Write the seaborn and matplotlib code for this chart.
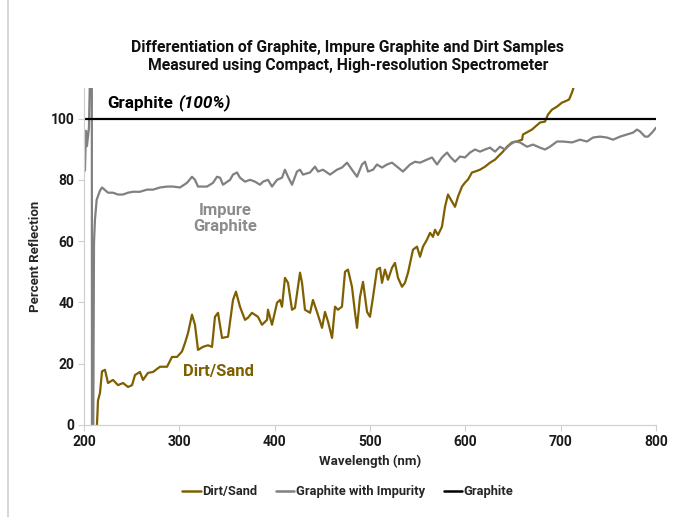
import matplotlib
matplotlib.use("Agg")
import matplotlib.pyplot as plt
from matplotlib.lines import Line2D
import seaborn as sns
import pandas as pd

# Dirt/Sand spectrum (wavelength nm, percent reflection)
dirt_nm = [213.6, 214.7, 216.8, 218.9, 222.0, 225.2, 230.4, 235.7, 240.9, 246.2,
           250.4, 253.5, 258.7, 261.9, 267.1, 272.4, 279.7, 287.1, 292.3, 297.6,
           302.8, 306.0, 309.1, 313.3, 316.4, 319.6, 324.8, 330.1, 334.3, 337.4,
           340.6, 344.8, 351.1, 356.3, 359.4, 363.6, 368.9, 372.0, 376.2, 382.5,
           386.7, 392.0, 393.0, 397.2, 402.5, 405.6, 407.7, 410.8, 414.0, 418.2,
           421.3, 426.6, 428.7, 431.8, 437.1, 440.2, 444.4, 449.7, 452.8, 456.0,
           460.2, 463.3, 466.4, 470.6, 473.8, 476.9, 481.1, 484.3, 486.4, 489.5,
           492.7, 496.9, 500.0, 503.2, 507.3, 510.5, 512.6, 515.7, 518.9, 523.1,
           526.2, 529.4, 533.6, 536.7, 539.9, 545.1, 549.3, 552.5, 555.6, 559.8,
           563.0, 566.1, 568.2, 571.3, 575.5, 578.7, 581.8, 586.0, 589.2, 592.3,
           596.5, 599.7, 602.8, 607.0, 610.2, 615.4, 620.7, 625.9, 631.2, 634.3,
           639.5, 643.7, 649.0, 654.2, 659.5, 660.5, 669.9, 678.3, 683.6, 686.7,
           690.9, 696.2, 701.4, 704.6, 708.8, 711.9, 714.0]
dirt_pct = [0, 8, 10.5, 17.5, 18, 13.7, 14.7, 13, 13.7, 12.4,
            13, 16.3, 17.3, 14.7, 17, 17.3, 19, 19, 22.2, 22.2,
            24, 26.8, 30, 36, 32.7, 24.5, 25.5, 26, 25.5, 35.3,
            36.6, 28.4, 28.8, 40.8, 43.5, 38.6, 34.3, 35, 36.6, 35.3,
            32.7, 34.3, 37.6, 32.7, 39.9, 40.8, 38.6, 48, 46.4, 37.6,
            38.2, 49.7, 46.4, 37.6, 36.6, 40.8, 36.9, 31.7, 36.9, 33.7,
            28.4, 38.6, 37.6, 38.6, 50, 50.7, 45.1, 36.6, 31.7, 41.8,
            46.7, 36.9, 35.3, 41.8, 50.7, 51.3, 46.4, 50.7, 47.4, 51.3,
            52.9, 48, 45.1, 46.4, 49.7, 57.2, 58.2, 54.9, 58.2, 60.5,
            62.7, 61.4, 63.7, 62, 64.7, 71.2, 75.2, 72.9, 71.2, 74.5,
            77.8, 79.1, 80.1, 82.4, 82.7, 83.3, 84.3, 85.6, 86.6, 87.6,
            89.2, 90.8, 92.2, 92.5, 93.1, 94.8, 96.4, 98.7, 99, 101.3,
            102.9, 103.9, 105.2, 105.6, 106.2, 108.5, 110.5]

# Graphite with impurity spectrum
impure_nm = [201.0, 202.1, 203.1, 205.2, 207.0, 208.2, 208.4, 209.6, 210.5, 211.5,
             213.3, 216.8, 218.9, 225.2, 230.4, 235.7, 240.9, 246.2, 251.4, 258.7,
             266.1, 272.4, 279.7, 287.1, 293.4, 300.7, 308.0, 313.3, 316.4, 319.6,
             329.0, 335.3, 339.5, 342.7, 345.8, 353.2, 356.3, 360.5, 363.6, 368.9,
             374.1, 379.4, 384.6, 387.8, 393.0, 397.2, 402.5, 407.7, 410.8, 414.0,
             418.2, 423.4, 426.6, 429.7, 437.1, 442.3, 445.5, 450.7, 458.1, 465.4,
             470.6, 475.9, 481.1, 486.4, 491.6, 494.8, 497.9, 503.2, 507.3, 512.6,
             517.8, 523.1, 528.3, 534.6, 542.0, 547.2, 552.5, 559.8, 565.1, 570.3,
             575.5, 580.8, 583.9, 589.2, 594.4, 599.7, 604.9, 610.2, 615.4, 620.7,
             625.9, 631.2, 636.4, 641.6, 646.9, 652.1, 657.4, 664.7, 671.0, 678.3,
             683.6, 688.8, 696.2, 702.5, 711.9, 720.3, 727.6, 733.9, 741.3, 748.6,
             754.9, 762.3, 769.6, 775.9, 780.1, 783.2, 788.5, 791.6, 795.8, 800.0]
impure_pct = [83, 96, 91, 97, 125, 125, -10, -10, 59.5, 67,
              73.5, 76.5, 77.5, 75.8, 75.8, 75.2, 75.2, 75.8, 76.1, 76.1,
              76.8, 76.8, 77.5, 77.8, 77.8, 77.5, 79, 81, 80, 77.8,
              77.8, 79, 81, 80.7, 78.4, 80, 81.7, 82.4, 80.7, 79.4,
              80, 79.4, 78.4, 79.4, 80, 77.8, 80, 80.7, 83.3, 81,
              78.4, 82.7, 83.3, 81.7, 82.4, 84.3, 82.7, 83.3, 81.7, 83.3,
              84, 85.6, 83.3, 81, 85, 85.9, 82.7, 83.3, 85, 84,
              85, 85.6, 84.3, 82.7, 85, 85.9, 85.6, 86.6, 87.3, 85,
              87.3, 88.9, 87.6, 85.9, 87.6, 87.3, 88.9, 89.9, 89.2, 89.9,
              90.5, 89.2, 90.8, 89.9, 91.5, 92.5, 92.2, 90.8, 91.5, 90.5,
              89.9, 90.8, 92.5, 92.5, 92.2, 93.1, 92.5, 93.8, 94.1, 93.8,
              93.1, 94.1, 94.8, 95.4, 96.4, 95.8, 94.1, 94.1, 95.4, 97]

# Pure graphite reference
graphite_nm = [200, 800]
graphite_pct = [100, 100]

series = ["Dirt/Sand", "Graphite with Impurity", "Graphite"]
colors = ["#7f6000", "#808080", "#000000"]

df = pd.concat([
    pd.DataFrame({"nm": dirt_nm, "pct": dirt_pct, "sample": series[0]}),
    pd.DataFrame({"nm": impure_nm, "pct": impure_pct, "sample": series[1]}),
    pd.DataFrame({"nm": graphite_nm, "pct": graphite_pct, "sample": series[2]}),
])

sns.set_theme(style="white")
plt.rcParams['font.family'] = ['Roboto', 'DejaVu Sans']
plt.rcParams['font.weight'] = 'bold'

fig = plt.figure(figsize=(6.93, 5.17), dpi=100)
ax = fig.add_axes([0.1212, 0.178, 0.8254, 0.652])

sns.lineplot(data=df, x="nm", y="pct", hue="sample", hue_order=series,
             palette=colors, estimator=None, sort=False, linewidth=1.6,
             ax=ax, legend=False)

ax.set_xlim(200, 800)
ax.set_ylim(0, 110)
ax.set_xticks(range(200, 801, 100))
ax.set_yticks(range(0, 101, 20))
for lbl in ax.get_xticklabels() + ax.get_yticklabels():
    lbl.set_fontweight('bold')
    lbl.set_fontsize(10)
    lbl.set_color('#1a1a1a')
ax.tick_params(axis='both', length=4, width=0.8, color='#d0d0d0',
               bottom=True, left=True, direction='out', pad=3)
sns.despine(ax=ax)
for side in ['left', 'bottom']:
    ax.spines[side].set_color('#d0d0d0')
    ax.spines[side].set_linewidth(0.9)

ax.set_xlabel("Wavelength (nm)", fontsize=9.5, fontweight='bold', labelpad=4)
ax.set_ylabel("Percent Reflection", fontsize=9.5, fontweight='bold', labelpad=6)

fig.text(0.502, 0.891, "Differentiation of Graphite, Impure Graphite and Dirt Samples\n"
         "Measured using Compact, High-resolution Spectrometer",
         ha='center', va='center', fontsize=11.3, fontweight='bold',
         linespacing=1.25, color='#111111')

t1 = ax.text(224, 103.5, "Graphite", fontsize=12.3, fontweight='bold',
             ha='left', va='baseline', color='black')
ax.annotate("(100%)", xy=(1, 0), xycoords=t1, xytext=(4, 0),
            textcoords='offset points', fontsize=12.3, fontweight='bold',
            style='italic', ha='left', va='bottom', color='black')
ax.text(348, 67.5, "Impure\nGraphite", fontsize=12, fontweight='bold',
        ha='center', va='center', color='#8c8c8c', linespacing=1.1)
ax.text(341.5, 17.3, "Dirt/Sand", fontsize=12, fontweight='bold',
        ha='center', va='center', color='#7f6000')

handles = [Line2D([0], [0], color=c, lw=1.8) for c in colors]
fig.legend(handles, series, loc='center', bbox_to_anchor=(0.502, 0.049),
           ncol=3, frameon=False, handlelength=1.4, handletextpad=0.1,
           columnspacing=1.5, prop={'weight': 'bold', 'size': 9.3})

fig.add_artist(Line2D([0.012, 0.012], [0, 1], color='#d0d0d0', lw=1.2))

fig.savefig("out.png", dpi=100)
